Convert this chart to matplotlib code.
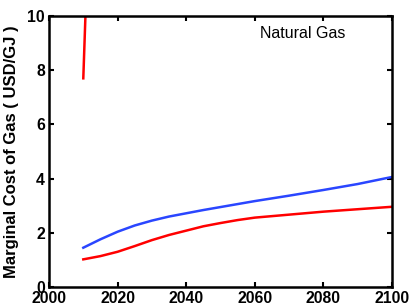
import matplotlib
matplotlib.use("Agg")
import matplotlib.pyplot as plt

plt.rcParams['font.family'] = ['Liberation Sans', 'DejaVu Sans']

years = [2010, 2015, 2020, 2025, 2030, 2035, 2040, 2045, 2050, 2055, 2060, 2070, 2080, 2090, 2100]
blue_vals = [1.45, 1.76, 2.04, 2.27, 2.45, 2.60, 2.72, 2.84, 2.95, 3.06, 3.17, 3.37, 3.58, 3.80, 4.06]
red_vals = [1.02, 1.14, 1.30, 1.51, 1.73, 1.92, 2.08, 2.24, 2.36, 2.47, 2.56, 2.67, 2.78, 2.87, 2.96]
red_spike_years = [2010, 2011]
red_spike_vals = [7.7, 11.4]

fig = plt.figure(figsize=(4.15, 3.07), dpi=100)
ax = fig.add_axes([49/415, 1 - 287/307, (392-49)/415, (287-16)/307])

ax.plot(years, blue_vals, color='#2a46ff', lw=1.8)
ax.plot(years, red_vals, color='#ff0000', lw=1.8)
ax.plot(red_spike_years, red_spike_vals, color='#ff0000', lw=1.8)

ax.set_xlim(2000, 2100)
ax.set_ylim(0, 10)
ax.set_xticks([2000, 2020, 2040, 2060, 2080, 2100])
ax.set_yticks([0, 2, 4, 6, 8, 10])
ax.tick_params(direction='in', top=True, right=True, length=3.5, width=1.5, labelsize=11.3, pad=3)
for lab in ax.get_xticklabels() + ax.get_yticklabels():
    lab.set_fontweight('bold')
for s in ax.spines.values():
    s.set_linewidth(1.8)
ax.set_ylabel('Marginal Cost of Gas ( USD/GJ )', fontsize=12, fontweight='bold', labelpad=6)
ax.text(2061.5, 9.35, 'Natural Gas', fontsize=11.5, va='center', ha='left')

fig.savefig('out.png', dpi=100)
